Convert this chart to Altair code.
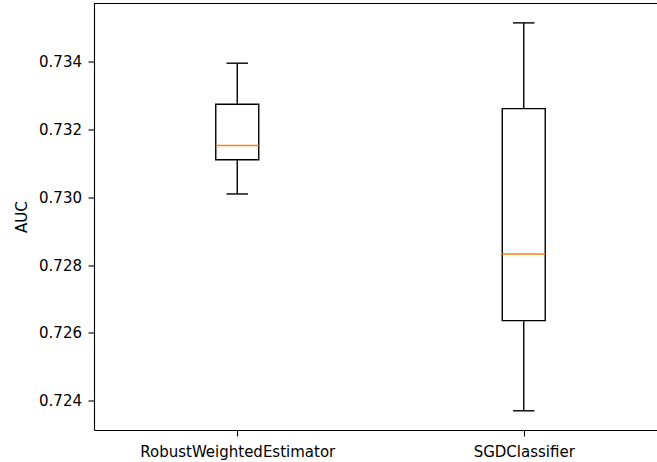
import altair as alt
import pandas as pd

# Per-model AUC summary statistics (whisker low, Q1, median, Q3, whisker high)
models = ["RobustWeightedEstimator", "SGDClassifier"]
positions = [1, 2]
whisker_low = [0.73010, 0.72370]
q1 = [0.73111, 0.72636]
median = [0.73153, 0.72833]
q3 = [0.73275, 0.73262]
whisker_high = [0.73396, 0.73515]

y_ticks = [0.724, 0.726, 0.728, 0.730, 0.732, 0.734]
y_domain = [0.723133, 0.735722]
x_domain = [0.5, 2.4651]

BOX_HALF = 0.075
CAP_HALF = 0.0375
W, H = 563, 426.5
LINE = 1.4

df = pd.DataFrame({
    "model": models,
    "pos": positions,
    "whislo": whisker_low,
    "q1": q1,
    "med": median,
    "q3": q3,
    "whishi": whisker_high,
})

label_expr = " : ".join(
    f"datum.value == {p} ? '{m}'" for p, m in zip(positions, models)
) + " : ''"

x_axis = alt.Axis(
    values=positions, labelExpr=label_expr, title=None, grid=False,
    domainColor="#000", domainWidth=1.1, tickColor="#000", tickWidth=1.1,
    tickSize=6, labelPadding=8, labelFontSize=15, labelColor="#000",
    labelFont="DejaVu Sans", labelAngle=0, labelLimit=500,
)
y_axis = alt.Axis(
    values=y_ticks, format=".3f", title="AUC", grid=False,
    domainColor="#000", domainWidth=1.1, tickColor="#000", tickWidth=1.1,
    tickSize=6, labelPadding=6.5, labelFontSize=15, labelColor="#000",
    labelFont="DejaVu Sans", titleFontSize=15, titleFont="DejaVu Sans",
    titleFontWeight="normal", titleColor="#000", titleAngle=270,
    titleX=-72.3, titleY=H / 2, titleAlign="center", titleBaseline="middle",
)

xs = alt.Scale(domain=x_domain, nice=False, zero=False)
ys = alt.Scale(domain=y_domain, nice=False, zero=False)

base = alt.Chart(df).transform_calculate(
    bl="datum.pos - %f" % BOX_HALF,
    br="datum.pos + %f" % BOX_HALF,
    cl="datum.pos - %f" % CAP_HALF,
    cr="datum.pos + %f" % CAP_HALF,
)

# Axes layer (carries both axes; draws nothing visible itself)
axes = base.mark_point(opacity=0).encode(
    x=alt.X("pos:Q", scale=xs, axis=x_axis),
    y=alt.Y("med:Q", scale=ys, axis=y_axis),
)

whisk_lo = base.mark_rule(color="#000", strokeWidth=LINE).encode(
    x="pos:Q", y="whislo:Q", y2="q1:Q"
)
whisk_hi = base.mark_rule(color="#000", strokeWidth=LINE).encode(
    x="pos:Q", y="q3:Q", y2="whishi:Q"
)
cap_lo = base.mark_rule(color="#000", strokeWidth=LINE).encode(
    x="cl:Q", x2="cr:Q", y="whislo:Q"
)
cap_hi = base.mark_rule(color="#000", strokeWidth=LINE).encode(
    x="cl:Q", x2="cr:Q", y="whishi:Q"
)
box = base.mark_rect(fill="white", fillOpacity=0, stroke="#000", strokeWidth=LINE).encode(
    x="bl:Q", x2="br:Q", y="q1:Q", y2="q3:Q"
)
med = base.mark_rule(color="#ff7f0e", strokeWidth=LINE).encode(
    x="bl:Q", x2="br:Q", y="med:Q"
)

# Top frame edge
top_edge = alt.Chart(df.head(1)).mark_rule(color="#000", strokeWidth=1.1).encode(
    x=alt.value(0), x2=alt.value(W), y=alt.value(0)
)

chart = alt.layer(
    axes, whisk_lo, whisk_hi, cap_lo, cap_hi, box, med, top_edge
).properties(
    width=W, height=H,
    autosize=alt.AutoSizeParams(type="none"),
    padding={"left": 94, "top": 3.5, "right": 0, "bottom": 32},
    background="white",
).configure_view(stroke=None)

chart.save("out.html", embed_options={"renderer": "svg", "actions": False})
